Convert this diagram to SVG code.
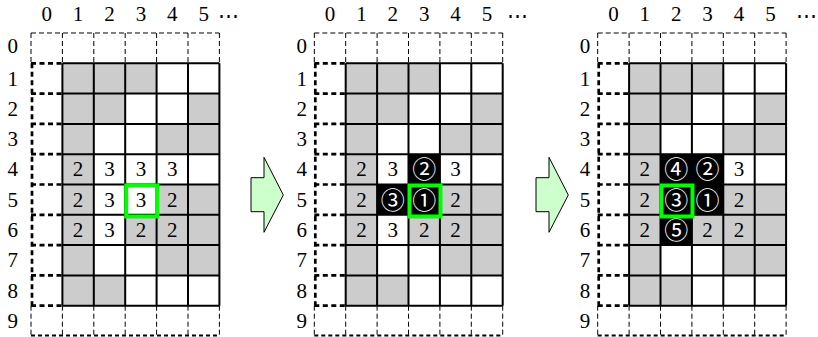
<svg xmlns="http://www.w3.org/2000/svg" xmlns:xlink="http://www.w3.org/1999/xlink" width="818" height="337" viewBox="0 0 818 337" font-family="'Liberation Serif', 'DejaVu Serif', serif">
<style>
.gray{fill:#cccccc}
.blk{fill:#000}
.solid{fill:none;stroke:#000;stroke-width:2}
.thin{fill:none;stroke:#000;stroke-width:1;stroke-dasharray:5 3}
.bot{fill:none;stroke:#000;stroke-width:2;stroke-dasharray:4 3}
.thick{fill:none;stroke:#000;stroke-width:2.7;stroke-dasharray:5 3.5}
.t{font-family:'Liberation Serif','DejaVu Serif',serif;font-size:21px;fill:#000;text-anchor:middle}
.c{font-family:'Noto Sans CJK JP','DejaVu Sans',sans-serif;font-size:24px;fill:#fff;text-anchor:middle}
.sel{fill:none;stroke:#00ff00;stroke-width:4}
.arrow{fill:#ccffcc;stroke:#000;stroke-width:1}
</style>
<defs>
<g id="base">
<rect class="gray" x="31.4" y="63.3" width="94.2" height="30.3"/>
<rect class="gray" x="31.4" y="93.6" width="62.8" height="30.3"/>
<rect class="gray" x="157" y="93.6" width="31.4" height="30.3"/>
<rect class="gray" x="31.4" y="123.9" width="31.4" height="30.3"/>
<rect class="gray" x="125.6" y="123.9" width="62.8" height="30.3"/>
<rect class="gray" x="31.4" y="154.2" width="31.4" height="30.3"/>
<rect class="gray" x="31.4" y="184.5" width="31.4" height="30.3"/>
<rect class="gray" x="125.6" y="184.5" width="62.8" height="30.3"/>
<rect class="gray" x="31.4" y="214.8" width="31.4" height="30.3"/>
<rect class="gray" x="94.2" y="214.8" width="94.2" height="30.3"/>
<rect class="gray" x="31.4" y="245.1" width="31.4" height="30.3"/>
<rect class="gray" x="125.6" y="245.1" width="62.8" height="30.3"/>
<rect class="gray" x="31.4" y="275.4" width="62.8" height="30.3"/>
</g>
<g id="lines">
<path class="solid" d="M31.4 63.3H188.4M31.4 93.6H188.4M31.4 123.9H188.4M31.4 154.2H188.4M31.4 184.5H188.4M31.4 214.8H188.4M31.4 245.1H188.4M31.4 275.4H188.4M31.4 305.7H188.4M31.4 63.3V305.7M62.8 63.3V305.7M94.2 63.3V305.7M125.6 63.3V305.7M157 63.3V305.7M188.4 63.3V305.7"/>
<path class="thin" d="M0 33H188.4M0 33V63.3M31.4 33V63.3M62.8 33V63.3M94.2 33V63.3M125.6 33V63.3M157 33V63.3M188.4 33V63.3M0 305.7V336M31.4 305.7V336M62.8 305.7V336M94.2 305.7V336M125.6 305.7V336M157 305.7V336M188.4 305.7V336"/>
<path class="bot" d="M0 335.5H188.4"/>
<path class="thick" d="M1 63.3V305.7M0 63.3H31.4M0 93.6H31.4M0 123.9H31.4M0 154.2H31.4M0 184.5H31.4M0 214.8H31.4M0 245.1H31.4M0 275.4H31.4M0 305.7H31.4"/>
</g>
<g id="collabels">
<text class="t" x="15.7" y="21">0</text>
<text class="t" x="47.1" y="21">1</text>
<text class="t" x="78.5" y="21">2</text>
<text class="t" x="109.9" y="21">3</text>
<text class="t" x="141.3" y="21">4</text>
<text class="t" x="172.7" y="21">5</text>
</g>
<g id="rowlabels">
<text class="t" x="0" y="52.5">0</text>
<text class="t" x="0" y="85.5">1</text>
<text class="t" x="0" y="115.8">2</text>
<text class="t" x="0" y="146.1">3</text>
<text class="t" x="0" y="176.4">4</text>
<text class="t" x="0" y="206.7">5</text>
<text class="t" x="0" y="237">6</text>
<text class="t" x="0" y="267.3">7</text>
<text class="t" x="0" y="297.5">8</text>
<text class="t" x="0" y="327.9">9</text>
</g>
</defs>

<g id="grid1" transform="translate(31,0)">
<use xlink:href="#base"/>
<use xlink:href="#lines"/>
<use xlink:href="#collabels"/>
<use xlink:href="#rowlabels" x="-18.3"/>
<text class="t" x="197" y="23">⋯</text>
<text class="t" x="47.1" y="176.4">2</text>
<text class="t" x="78.5" y="176.4">3</text>
<text class="t" x="109.9" y="176.4">3</text>
<text class="t" x="141.3" y="176.4">3</text>
<text class="t" x="47.1" y="206.7">2</text>
<text class="t" x="78.5" y="206.7">3</text>
<text class="t" x="109.9" y="206.7">3</text>
<text class="t" x="141.3" y="206.7">2</text>
<text class="t" x="47.1" y="237">2</text>
<text class="t" x="78.5" y="237">3</text>
<text class="t" x="109.9" y="237">2</text>
<text class="t" x="141.3" y="237">2</text>
<rect class="sel" x="95.2" y="185.5" width="31" height="31"/>
</g>

<g id="grid2" transform="translate(314.3,0)">
<use xlink:href="#base"/>
<rect class="blk" x="94.2" y="154.2" width="31.4" height="30.3"/>
<rect class="blk" x="62.8" y="184.5" width="62.8" height="30.3"/>
<use xlink:href="#lines"/>
<use xlink:href="#collabels"/>
<use xlink:href="#rowlabels" x="-12.6"/>
<text class="t" x="203" y="23">⋯</text>
<text class="t" x="47.1" y="176.4">2</text>
<text class="t" x="78.5" y="176.4">3</text>
<text class="c" x="109.9" y="178.3">②</text>
<text class="t" x="141.3" y="176.4">3</text>
<text class="t" x="47.1" y="206.7">2</text>
<text class="c" x="78.5" y="208.6">③</text>
<text class="c" x="109.9" y="208.6">①</text>
<text class="t" x="141.3" y="206.7">2</text>
<text class="t" x="47.1" y="237">2</text>
<text class="t" x="78.5" y="237">3</text>
<text class="t" x="109.9" y="237">2</text>
<text class="t" x="141.3" y="237">2</text>
<rect class="sel" x="95.2" y="185.5" width="31" height="31"/>
</g>

<g id="grid3" transform="translate(597.7,0)">
<use xlink:href="#base"/>
<rect class="blk" x="62.8" y="154.2" width="62.8" height="60.6"/>
<rect class="blk" x="62.8" y="214.8" width="31.4" height="30.3"/>
<use xlink:href="#lines"/>
<use xlink:href="#collabels"/>
<use xlink:href="#rowlabels" x="-12.6"/>
<text class="t" x="209" y="23">⋯</text>
<text class="t" x="47.1" y="176.4">2</text>
<text class="c" x="78.5" y="178.3">④</text>
<text class="c" x="109.9" y="178.3">②</text>
<text class="t" x="141.3" y="176.4">3</text>
<text class="t" x="47.1" y="206.7">2</text>
<text class="c" x="78.5" y="208.6">③</text>
<text class="c" x="109.9" y="208.6">①</text>
<text class="t" x="141.3" y="206.7">2</text>
<text class="t" x="47.1" y="237">2</text>
<text class="c" x="78.5" y="238.9">⑤</text>
<text class="t" x="109.9" y="237">2</text>
<text class="t" x="141.3" y="237">2</text>
<rect class="sel" x="63.8" y="185.5" width="31" height="31"/>
</g>

<g id="connectors">
<polygon class="arrow" points="251,177.7 264,177.7 264,157.3 283.3,195 264,232.3 264,211.7 251,211.7"/>
<polygon class="arrow" points="536,177.7 549,177.7 549,157.3 568.3,195 549,232.3 549,211.7 536,211.7"/>
</g>
</svg>
